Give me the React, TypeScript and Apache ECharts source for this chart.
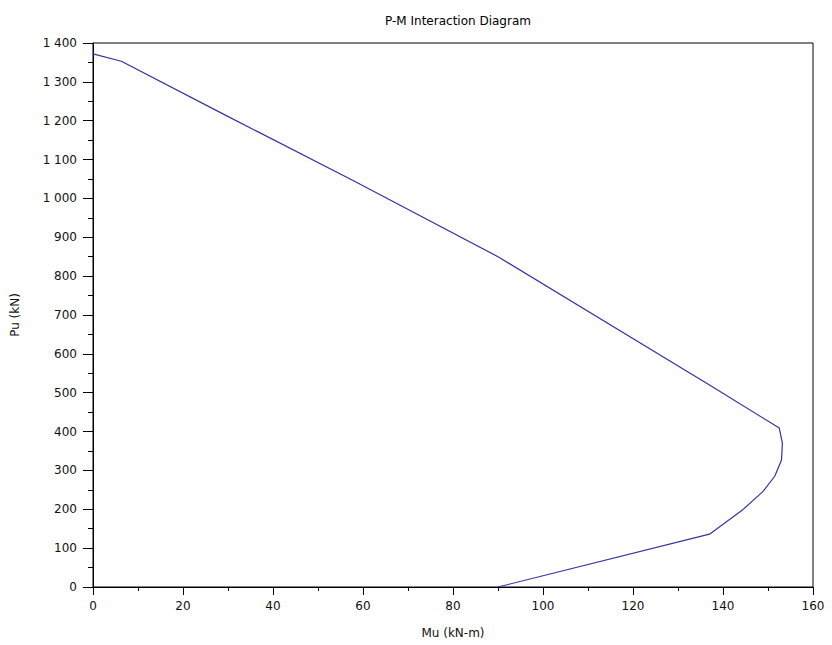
import React, { useEffect, useRef } from "react";
import * as echarts from "echarts";

const moment: number[] = [0, 6.3, 29.3, 58, 90, 137, 152.5, 153.2, 153, 151.5, 148.9, 144.4, 137, 90];
const axial: number[] = [1372, 1353, 1215, 1045, 850, 520, 409, 370, 327, 285, 246, 199, 136, 0];

const titleText = "P-M Interaction Diagram";
const xName = "Mu (kN-m)";
const yName = "Pu (kN)";

function fmtThousands(v: number): string {
  const s = String(Math.round(v));
  return s.replace(/\B(?=(\d{3})+(?!\d))/g, " ");
}

export default function App() {
  const ref = useRef<HTMLDivElement>(null);
  useEffect(() => {
    document.body.style.margin = "0";
    if (!ref.current) return;
    const chart = echarts.init(ref.current, undefined, { renderer: "svg" });
    const font = "DejaVu Sans";
    chart.setOption({
      animation: false,
      backgroundColor: "#ffffff",
      title: {
        text: titleText,
        left: 453,
        textAlign: "center",
        top: 10,
        textStyle: { fontFamily: font, fontSize: 12, fontWeight: "normal", color: "#000" },
      },
      grid: {
        left: 93,
        right: 19,
        top: 43,
        bottom: 58,
        show: true,
        borderColor: "#000",
        borderWidth: 1,
        backgroundColor: "transparent",
      },
      xAxis: {
        type: "value",
        min: 0,
        max: 160,
        interval: 20,
        name: xName,
        nameLocation: "middle",
        nameGap: 40,
        nameTextStyle: { fontFamily: font, fontSize: 12, color: "#111" },
        axisLine: { show: true, lineStyle: { color: "#000", width: 1 } },
        axisTick: { show: true, inside: false, length: 8, lineStyle: { color: "#000" } },
        minorTick: { show: true, splitNumber: 2, length: 4, lineStyle: { color: "#000" } },
        splitLine: { show: false },
        axisLabel: { fontFamily: font, fontSize: 12, color: "#111", margin: 13 },
      },
      yAxis: {
        type: "value",
        min: 0,
        max: 1400,
        interval: 100,
        name: yName,
        nameLocation: "middle",
        nameGap: 72,
        nameTextStyle: { fontFamily: font, fontSize: 12, color: "#111" },
        axisLine: { show: true, lineStyle: { color: "#000", width: 1 } },
        axisTick: { show: true, inside: false, length: 10, lineStyle: { color: "#000" } },
        minorTick: { show: true, splitNumber: 2, length: 5, lineStyle: { color: "#000" } },
        splitLine: { show: false },
        axisLabel: {
          fontFamily: font,
          fontSize: 12,
          color: "#111",
          margin: 16,
          formatter: (v: number) => fmtThousands(v),
        },
      },
      series: [
        {
          type: "line",
          data: moment.map((m, i) => [m, axial[i]]),
          symbol: "none",
          lineStyle: { color: "#3333a6", width: 1.2 },
          smooth: false,
        },
      ],
    });
    return () => chart.dispose();
  }, []);
  return <div ref={ref} style={{ width: 832, height: 645 }} />;
}
